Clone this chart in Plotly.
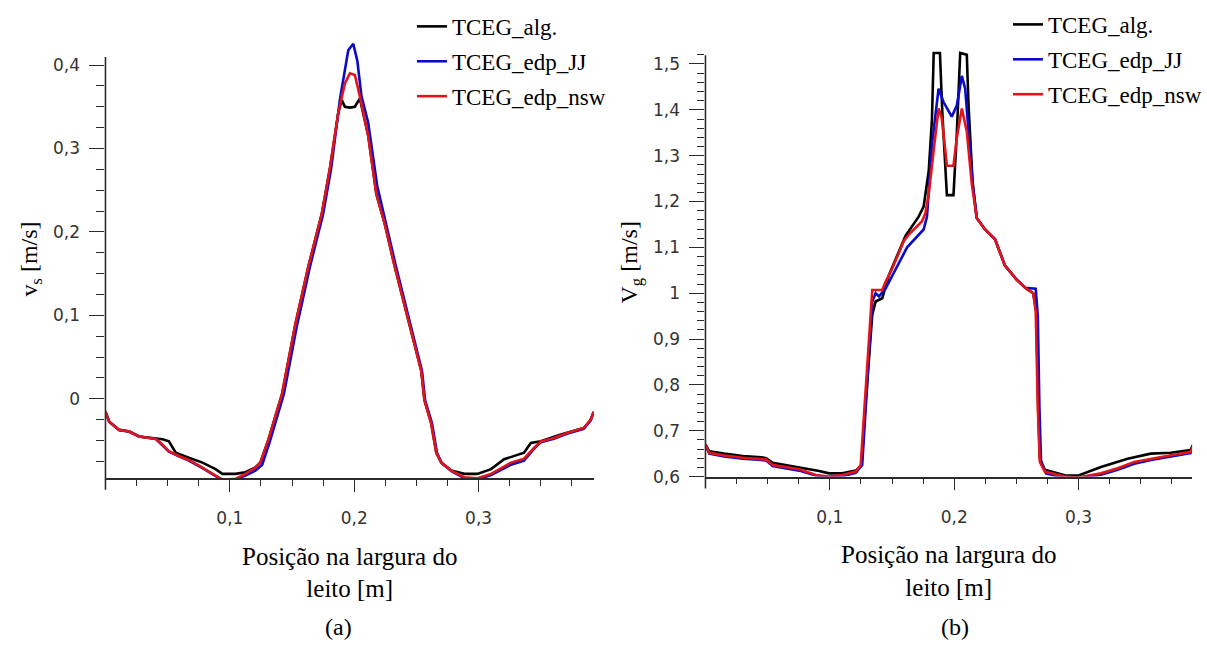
import plotly.graph_objects as go

# ---- (a) solid velocity v_s [m/s] vs. position across the bed [m] ----
vs_alg_x = [0.000, 0.003, 0.011, 0.019, 0.027, 0.0405, 0.046, 0.051, 0.0565, 0.067, 0.078, 0.0885,
            0.094, 0.1045, 0.1125, 0.1205, 0.1245, 0.131, 0.1365, 0.142, 0.1525, 0.1632, 0.1739,
            0.1805, 0.1872, 0.190, 0.1925, 0.1965, 0.2005, 0.2035, 0.2045, 0.2112, 0.2178, 0.2245,
            0.2325, 0.2432, 0.2539, 0.2565, 0.2618, 0.266, 0.270, 0.278, 0.2885, 0.299, 0.310,
            0.3205, 0.3365, 0.342, 0.350, 0.3655, 0.3845, 0.390, 0.3925]
vs_alg_y = [-0.0157, -0.0274, -0.0373, -0.0392, -0.0451, -0.0475, -0.0485, -0.051, -0.0647, -0.0706,
            -0.0765, -0.0843, -0.090, -0.090, -0.088, -0.0824, -0.0765, -0.049, -0.0216, 0.006, 0.088,
            0.159, 0.2216, 0.2765, 0.343, 0.358, 0.350, 0.349, 0.350, 0.358, 0.3600, 0.3157, 0.245,
            0.2098, 0.159, 0.096, 0.0333, -0.002, -0.029, -0.0647, -0.0765, -0.086, -0.090, -0.090,
            -0.0843, -0.0725, -0.0647, -0.053, -0.051, -0.043, -0.035, -0.0255, -0.0157]

vs_jj_x = [0.000, 0.003, 0.011, 0.019, 0.027, 0.0405, 0.0445, 0.051, 0.059, 0.067, 0.078, 0.0885,
           0.094, 0.1045, 0.1125, 0.1205, 0.126, 0.132, 0.1375, 0.1435, 0.154, 0.1645, 0.175,
           0.1815, 0.1885, 0.1952, 0.1992, 0.2025, 0.2058, 0.2112, 0.2185, 0.2255, 0.2335, 0.244,
           0.2545, 0.257, 0.2625, 0.2665, 0.2705, 0.2785, 0.289, 0.299, 0.310, 0.326, 0.3365,
           0.3445, 0.350, 0.3605, 0.371, 0.3845, 0.390, 0.3925]
vs_jj_y = [-0.0157, -0.0274, -0.0373, -0.0392, -0.0451, -0.0482, -0.054, -0.0635, -0.069, -0.074,
           -0.083, -0.093, -0.0975, -0.097, -0.092, -0.086, -0.079, -0.052, -0.024, 0.006, 0.088,
           0.159, 0.2216, 0.2765, 0.3588, 0.4176, 0.4255, 0.405, 0.3627, 0.331, 0.255, 0.2098,
           0.159, 0.096, 0.0333, -0.002, -0.029, -0.0647, -0.0775, -0.087, -0.0955, -0.0965,
           -0.0915, -0.079, -0.074, -0.060, -0.052, -0.048, -0.042, -0.036, -0.026, -0.0157]

vs_nsw_x = [0.000, 0.003, 0.011, 0.019, 0.027, 0.0405, 0.0445, 0.051, 0.059, 0.067, 0.078, 0.0885,
            0.094, 0.1045, 0.1125, 0.1205, 0.1245, 0.131, 0.1365, 0.142, 0.1525, 0.1632, 0.1739,
            0.1805, 0.1872, 0.1925, 0.1965, 0.2005, 0.2045, 0.2112, 0.2178, 0.2245, 0.2325, 0.2432,
            0.2539, 0.2565, 0.2618, 0.266, 0.270, 0.278, 0.2885, 0.299, 0.310, 0.326, 0.3365,
            0.3445, 0.350, 0.3605, 0.371, 0.3845, 0.390, 0.3925]
vs_nsw_y = [-0.0157, -0.0274, -0.0373, -0.0392, -0.0451, -0.0482, -0.053, -0.0627, -0.0686, -0.0733,
            -0.0824, -0.0922, -0.0969, -0.096, -0.090, -0.0824, -0.0765, -0.049, -0.0216, 0.006,
            0.088, 0.159, 0.2216, 0.2765, 0.343, 0.378, 0.390, 0.388, 0.3627, 0.3157, 0.245,
            0.2098, 0.159, 0.096, 0.0333, -0.002, -0.029, -0.0647, -0.0765, -0.086, -0.094,
            -0.0953, -0.090, -0.0765, -0.0718, -0.0588, -0.051, -0.047, -0.041, -0.035, -0.0255,
            -0.0157]

# ---- (b) gas velocity V_g [m/s] vs. position across the bed [m] ----
vg_alg_x = [0.000, 0.003, 0.015, 0.030, 0.045, 0.0488, 0.054, 0.0648, 0.0754, 0.0914, 0.0994, 0.110,
            0.1208, 0.1255, 0.128, 0.1315, 0.1341, 0.1368, 0.1421, 0.1474, 0.1608, 0.1714, 0.1754,
            0.1795, 0.1821, 0.1835, 0.1885, 0.1905, 0.1941, 0.1994, 0.2021, 0.2048, 0.2101, 0.2115,
            0.2148, 0.2181, 0.2248, 0.2328, 0.2408, 0.250, 0.258, 0.2635, 0.266, 0.2675, 0.2688,
            0.2728, 0.2888, 0.2994, 0.318, 0.3394, 0.358, 0.374, 0.390, 0.3925]
vg_alg_y = [0.670, 0.655, 0.650, 0.645, 0.642, 0.640, 0.630, 0.625, 0.620, 0.612, 0.607, 0.607,
            0.613, 0.625, 0.732, 0.850, 0.953, 0.982, 0.989, 1.039, 1.125, 1.167, 1.189, 1.267,
            1.380, 1.524, 1.524, 1.390, 1.214, 1.214, 1.350, 1.524, 1.520, 1.410, 1.240, 1.164,
            1.139, 1.1175, 1.060, 1.030, 1.010, 1.000, 0.960, 0.750, 0.640, 0.615, 0.603, 0.602,
            0.621, 0.639, 0.650, 0.652, 0.658, 0.672]

vg_jj_x = [0.000, 0.003, 0.015, 0.030, 0.045, 0.0488, 0.054, 0.0648, 0.0754, 0.0914, 0.0994, 0.110,
           0.1208, 0.126, 0.1285, 0.1315, 0.1341, 0.1368, 0.1395, 0.1448, 0.1528, 0.1621, 0.1754,
           0.1781, 0.1821, 0.1874, 0.1914, 0.198, 0.2021, 0.2061, 0.2088, 0.2115, 0.2148, 0.2181,
           0.2248, 0.2328, 0.2408, 0.250, 0.257, 0.2655, 0.2672, 0.2685, 0.2698, 0.2738, 0.2888,
           0.2994, 0.318, 0.3314, 0.3448, 0.3582, 0.3741, 0.390, 0.3925]
vg_jj_y = [0.670, 0.650, 0.644, 0.639, 0.636, 0.635, 0.623, 0.618, 0.613, 0.600, 0.598, 0.601,
           0.608, 0.625, 0.732, 0.850, 0.982, 1.000, 0.993, 1.010, 1.053, 1.100, 1.139, 1.167,
           1.324, 1.446, 1.417, 1.385, 1.410, 1.474, 1.446, 1.353, 1.240, 1.164, 1.139, 1.1175,
           1.060, 1.030, 1.012, 1.010, 0.950, 0.750, 0.632, 0.607, 0.597, 0.596, 0.604, 0.615,
           0.628, 0.636, 0.644, 0.651, 0.668]

vg_nsw_x = [0.000, 0.003, 0.015, 0.030, 0.045, 0.0488, 0.054, 0.0648, 0.0754, 0.0888, 0.0994, 0.110,
            0.1208, 0.1248, 0.1275, 0.1301, 0.1328, 0.1341, 0.1421, 0.1448, 0.1501, 0.1595, 0.1635,
            0.1741, 0.1768, 0.1795, 0.1834, 0.1874, 0.190, 0.1941, 0.1994, 0.2021, 0.2061, 0.2101,
            0.2141, 0.2181, 0.2248, 0.2328, 0.2408, 0.250, 0.258, 0.2635, 0.2655, 0.2672, 0.2688,
            0.2728, 0.2888, 0.2994, 0.318, 0.3314, 0.3448, 0.3582, 0.3741, 0.390, 0.3925]
vg_nsw_y = [0.670, 0.652, 0.646, 0.641, 0.638, 0.637, 0.625, 0.621, 0.616, 0.6036, 0.600, 0.6036,
            0.611, 0.625, 0.732, 0.839, 0.960, 1.007, 1.007, 1.0247, 1.0533, 1.114, 1.128, 1.157,
            1.1746, 1.217, 1.310, 1.403, 1.382, 1.278, 1.278, 1.339, 1.403, 1.353, 1.239, 1.164,
            1.139, 1.1175, 1.060, 1.030, 1.010, 1.000, 0.960, 0.750, 0.632, 0.611, 0.600, 0.598,
            0.607, 0.618, 0.632, 0.639, 0.6465, 0.6535, 0.670]

series_names = ["TCEG_alg.", "TCEG_edp_JJ", "TCEG_edp_nsw"]
series_colors = ["#000000", "#0a0ac8", "#e3141a"]

x_major = [0.1, 0.2, 0.3]
x_major_text = ["0,1", "0,2", "0,3"]
x_minor = [0.025 * k for k in range(0, 16)]

vs_major = [0, 0.1, 0.2, 0.3, 0.4]
vs_major_text = ["0", "0,1", "0,2", "0,3", "0,4"]
vs_minor = [round(-0.075 + 0.025 * k, 3) for k in range(0, 20)]

vg_major = [0.6, 0.7, 0.8, 0.9, 1.0, 1.1, 1.2, 1.3, 1.4, 1.5]
vg_major_text = ["0,6", "0,7", "0,8", "0,9", "1", "1,1", "1,2", "1,3", "1,4", "1,5"]
vg_minor = [round(0.6 + 0.02 * k, 3) for k in range(0, 47)]

W, H = 1207, 652
AX = "#2b2b2b"
TICK_FONT = dict(family="DejaVu Sans", size=17, color="#333333")
SERIF = "Liberation Serif"

fig = go.Figure()

panel_a = [(vs_alg_x, vs_alg_y), (vs_jj_x, vs_jj_y), (vs_nsw_x, vs_nsw_y)]
panel_b = [(vg_alg_x, vg_alg_y), (vg_jj_x, vg_jj_y), (vg_nsw_x, vg_nsw_y)]

for i, (xs, ys) in enumerate(panel_a):
    fig.add_trace(go.Scatter(x=xs, y=ys, mode="lines", name=series_names[i],
                             line=dict(color=series_colors[i], width=2.6, shape="linear"),
                             xaxis="x", yaxis="y", legend="legend",
                             legendgroup="a%d" % i))
for i, (xs, ys) in enumerate(panel_b):
    fig.add_trace(go.Scatter(x=xs, y=ys, mode="lines", name=series_names[i],
                             line=dict(color=series_colors[i], width=2.6, shape="linear"),
                             xaxis="x2", yaxis="y2", legend="legend2",
                             legendgroup="b%d" % i))


def px_x(p):
    return p / W


def px_y(p):
    return 1 - p / H


common_x = dict(showgrid=False, zeroline=False, showline=True, linecolor=AX, linewidth=1.6,
                ticks="outside", ticklen=12, tickwidth=1.4, tickcolor=AX,
                tickmode="array", tickvals=x_major, ticktext=x_major_text,
                tickfont=TICK_FONT, ticklabelstandoff=12,
                minor=dict(tickmode="array", tickvals=x_minor, ticks="outside",
                           ticklen=6, tickwidth=1.4, tickcolor=AX),
                title=dict(text="Posição na largura do<br>leito [m]",
                           font=dict(family=SERIF, size=25, color="#000000"), standoff=20))

common_y = dict(showgrid=False, zeroline=False, showline=False,
                ticks="outside", ticklen=15, tickwidth=1.4, tickcolor=AX,
                tickmode="array", tickfont=TICK_FONT, ticklabelstandoff=6)

fig.update_layout(
    width=W, height=H,
    margin=dict(l=0, r=0, t=0, b=0),
    paper_bgcolor="white", plot_bgcolor="white",
    xaxis=dict(domain=[px_x(106), px_x(597)], range=[0, 0.3928], anchor="y", **common_x),
    yaxis=dict(domain=[px_y(485.5), px_y(40.6)], range=[-0.095, 0.43], anchor="x",
               tickvals=vs_major, ticktext=vs_major_text,
               minor=dict(tickmode="array", tickvals=vs_minor, ticks="outside",
                          ticklen=8, tickwidth=1.4, tickcolor=AX),
               title=dict(text="v<sub>s</sub> [m/s]",
                          font=dict(family=SERIF, size=24, color="#000000"), standoff=8),
               **common_y),
    xaxis2=dict(domain=[px_x(709), px_x(1198)], range=[0, 0.3912], anchor="y2", **common_x),
    yaxis2=dict(domain=[px_y(484), px_y(48.7)], range=[0.6, 1.535], anchor="x2",
                tickvals=vg_major, ticktext=vg_major_text,
                minor=dict(tickmode="array", tickvals=vg_minor, ticks="outside",
                           ticklen=7, tickwidth=1.4, tickcolor=AX),
                title=dict(text="V<sub>g</sub> [m/s]",
                           font=dict(family=SERIF, size=24, color="#000000"), standoff=8),
                **common_y),
    legend=dict(x=px_x(414), y=px_y(5), xanchor="left", yanchor="top",
                font=dict(family=SERIF, size=23, color="#000000"),
                bgcolor="rgba(0,0,0,0)", tracegroupgap=2, itemwidth=30),
    legend2=dict(x=px_x(1013), y=px_y(3), xanchor="left", yanchor="top",
                 font=dict(family=SERIF, size=23, color="#000000"),
                 bgcolor="rgba(0,0,0,0)", tracegroupgap=2, itemwidth=30),
    shapes=[
        # vertical axis lines: from just above the top major tick down past the
        # horizontal axis, forming the long origin tick
        dict(type="line", xref="paper", yref="paper", x0=px_x(106), x1=px_x(106),
             y0=px_y(497.5), y1=px_y(58), line=dict(color=AX, width=1.6)),
        dict(type="line", xref="paper", yref="paper", x0=px_x(709), x1=px_x(709),
             y0=px_y(496), y1=px_y(56), line=dict(color=AX, width=1.6)),
    ],
    annotations=[
        dict(text="(a)", x=px_x(340), y=px_y(637), xref="paper", yref="paper",
             xanchor="center", yanchor="middle",
             showarrow=False, font=dict(family=SERIF, size=24, color="#000000")),
        dict(text="(b)", x=px_x(960), y=px_y(637), xref="paper", yref="paper",
             xanchor="center", yanchor="middle",
             showarrow=False, font=dict(family=SERIF, size=24, color="#000000")),
    ],
)

fig.write_html("out.html")
